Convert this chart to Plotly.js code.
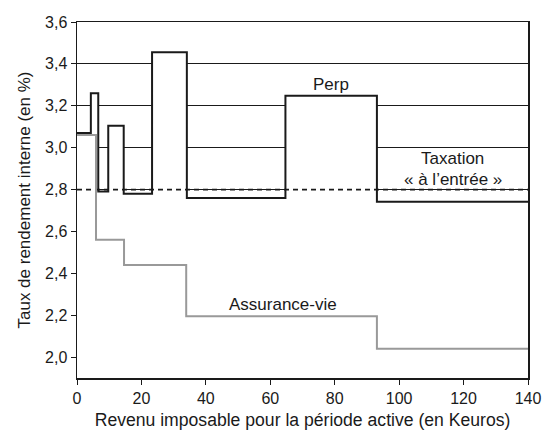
<!DOCTYPE html>
<html>
<head>
<meta charset="utf-8">
<script src="https://cdn.plot.ly/plotly-3.0.1.min.js"></script>
<style>html,body{margin:0;padding:0;background:#fff;}#chart{width:543px;height:430px;}</style>
</head>
<body>
<div id="chart"></div>
<script>
// Perp: step boundaries (Keuros) and rates (%)
var perpEdges = [0, 4.3, 6.6, 9.7, 14.5, 23.3, 34.1, 64.7, 93.1, 140];
var perpRates = [3.07, 3.26, 2.79, 3.105, 2.78, 3.455, 2.76, 3.248, 2.742];
// Assurance-vie
var avEdges = [0, 5.9, 14.6, 33.9, 93.1, 140];
var avRates = [3.06, 2.56, 2.44, 2.195, 2.04];
// Reference level
var refRate = 2.8;
var xTicks = [0, 20, 40, 60, 80, 100, 120, 140];
var yTicks = [2.0, 2.2, 2.4, 2.6, 2.8, 3.0, 3.2, 3.4, 3.6];

function stepXY(edges, rates) {
  var xs = [], ys = [];
  for (var i = 0; i < rates.length; i++) {
    xs.push(edges[i]); ys.push(rates[i]);
    xs.push(edges[i + 1]); ys.push(rates[i]);
  }
  return {x: xs, y: ys};
}
var p = stepXY(perpEdges, perpRates);
var a = stepXY(avEdges, avRates);

var traces = [
  {x: p.x, y: p.y, mode: 'lines', line: {color: '#1a1a1a', width: 2}, fill: 'tozeroy', fillcolor: '#ffffff', hoverinfo: 'skip'},
  {x: [0, 140], y: [refRate, refRate], mode: 'lines', line: {color: '#1a1a1a', width: 1.8, dash: '5px,4px'}, hoverinfo: 'skip'},
  {x: a.x, y: a.y, mode: 'lines', line: {color: '#999999', width: 2}, hoverinfo: 'skip'}
];

var font = {family: 'Liberation Sans, Arial, sans-serif', size: 17, color: '#1a1a1a'};
var xtitlefont = {family: 'Liberation Sans, Arial, sans-serif', size: 17.6, color: '#1a1a1a'};
var tickfont = {family: 'Liberation Sans, Arial, sans-serif', size: 16, color: '#1a1a1a'};
var layout = {
  width: 543, height: 430,
  margin: {l: 77, r: 15, t: 22, b: 52},
  showlegend: false,
  separators: ', ',
  paper_bgcolor: '#fff', plot_bgcolor: '#fff',
  font: font,
  xaxis: {
    range: [0, 140], tickvals: xTicks, ticks: 'outside', ticklen: 5, tickcolor: '#1a1a1a',
    showline: true, linecolor: '#1a1a1a', linewidth: 1.5, mirror: true, showgrid: false, zeroline: false,
    title: {text: 'Revenu imposable pour la période active (en Keuros)', font: xtitlefont, standoff: 10},
    tickfont: tickfont
  },
  yaxis: {
    range: [1.9, 3.6], tickvals: yTicks, tickformat: '.1f', ticks: 'outside', ticklen: 5, tickcolor: '#1a1a1a',
    showline: true, linecolor: '#1a1a1a', linewidth: 1.5, mirror: true, showgrid: true, gridcolor: '#1a1a1a', gridwidth: 1, zeroline: false,
    title: {text: 'Taux de rendement interne (en %)', font: font, standoff: 10},
    tickfont: tickfont
  },
  annotations: [
    {x: 79, y: 3.30, text: 'Perp', showarrow: false, font: font},
    {x: 116.7, y: 2.95, text: 'Taxation', showarrow: false, font: font},
    {x: 116.7, y: 2.85, text: '« à l’entrée »', showarrow: false, font: font},
    {x: 63.8, y: 2.253, text: 'Assurance-vie', showarrow: false, font: font}
  ]
};
Plotly.newPlot('chart', traces, layout, {displayModeBar: false, staticPlot: true});
</script>
</body>
</html>
